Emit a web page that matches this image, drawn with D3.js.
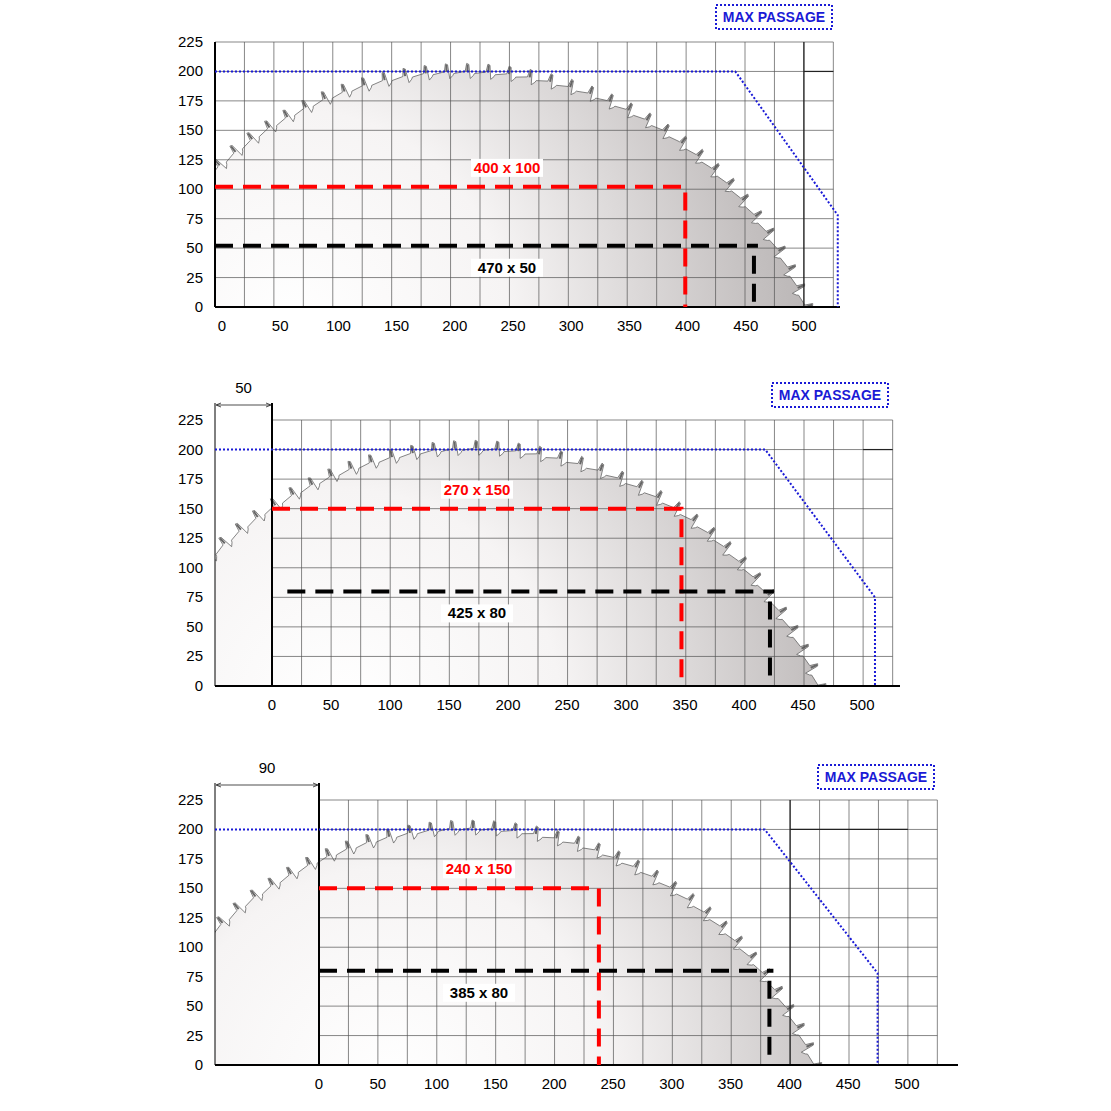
<!DOCTYPE html>
<html><head><meta charset="utf-8">
<script src="https://cdn.jsdelivr.net/npm/d3@7"></script>
<style>body{margin:0;background:#fff}svg{display:block;font-family:"Liberation Sans",Arial,sans-serif}</style>
</head><body><div id="app"></div>
<script>
const yTicks = [0, 25, 50, 75, 100, 125, 150, 175, 200, 225];
const xTicks = [0, 50, 100, 150, 200, 250, 300, 350, 400, 450, 500];
const offsetLabel = [null, "50", "90"];
const redX = [398, 347, 238];
const redY = [102, 150, 150];
const redLabel = ["400 x 100", "270 x 150", "240 x 150"];
const blackStart = [-6, 13, 0];
const blackX = [457, 422, 383];
const blackY = [52, 80, 80];
const blackLabel = ["470 x 50", "425 x 80", "385 x 80"];
const maxHeight = [200, 200, 200];
const blueKnee = [441, 418, 379];
const blueEnd = [529, 511, 475];
const blueEndY = [78, 75, 78];
const bladeCx = [208, 170, 128];
const bladeCy = [-110, -112, -112];
const bladeR = [312, 312, 312];

const layout = [
  {x0: 222, k: 1.164, yb: 307, yt: 42, gl: 215, left: 215, axisR: 840, box: [716, 5], dark: 20},
  {x0: 272, k: 1.18, yb: 686, yt: 420, gl: 272, left: 215, axisR: 900, box: [772, 383], dark: null},
  {x0: 319, k: 1.176, yb: 1065, yt: 800, gl: 319, left: 215, axisR: 958, box: [818, 765], dark: 16}
];

const svg = d3.select("#app").append("svg").attr("width", 1111).attr("height", 1111);
const defs = svg.append("defs");

layout.forEach((L, p) => {
  const x = d3.scaleLinear().domain([0, 500]).range([L.x0, L.x0 + 500 * L.k]);
  const y = d3.scaleLinear().domain([0, 225]).range([L.yb, L.yt]);
  const cell = (L.yb - L.yt) / 9;
  const gr = L.gl + 21 * cell;
  const g = svg.append("g");

  const grad = defs.append("radialGradient").attr("id", "blade" + p).attr("gradientUnits", "userSpaceOnUse")
    .attr("cx", x(60)).attr("cy", L.yb + 20).attr("r", 620);
  grad.append("stop").attr("offset", "0%").attr("stop-color", "#ffffff");
  grad.append("stop").attr("offset", "35%").attr("stop-color", "#f6f4f4");
  grad.append("stop").attr("offset", "75%").attr("stop-color", "#c4c0c0");
  grad.append("stop").attr("offset", "100%").attr("stop-color", "#a8a4a4");

  defs.append("clipPath").attr("id", "clip" + p).append("rect")
    .attr("x", L.left).attr("y", L.yt - 40).attr("width", 800).attr("height", L.yb - L.yt + 40);

  // saw blade
  const cx = x(bladeCx[p]), cy = y(bladeCy[p]), r = bladeR[p] * L.k;
  const n = 110, pts = [];
  const P = (rr, aa) => [cx + rr * Math.cos(aa), cy + rr * Math.sin(aa)];
  for (let i = 0; i < n; i++) {
    const a = (i / n) * 2 * Math.PI, s = 2 * Math.PI / n;
    pts.push(P(r, a), P(r + 2, a + s * 0.55), P(r + 10, a + s * 0.62), P(r + 9, a + s * 0.72), P(r - 5, a + s * 0.8), P(r - 2, a + s * 0.95));
  }
  const bg = g.append("g").attr("clip-path", `url(#clip${p})`);
  bg.append("polygon").attr("points", pts.map(d => d.join(",")).join(" "))
    .attr("fill", `url(#blade${p})`).attr("stroke", "#666").attr("stroke-width", 0.8);
  for (let i = 0; i < n; i++) {
    const a = (i / n) * 2 * Math.PI + (2 * Math.PI / n) * 0.66;
    const p1 = P(r + 2, a), p2 = P(r + 9, a);
    bg.append("line").attr("x1", p1[0]).attr("y1", p1[1]).attr("x2", p2[0]).attr("y2", p2[1])
      .attr("stroke", "#666").attr("stroke-width", 2);
  }

  // grid
  yTicks.forEach(t => g.append("line").attr("x1", L.gl).attr("x2", gr).attr("y1", y(t)).attr("y2", y(t))
    .attr("stroke", "#555").attr("stroke-width", 0.7));
  d3.range(22).forEach(i => g.append("line").attr("x1", L.gl + i * cell).attr("x2", L.gl + i * cell)
    .attr("y1", L.yt).attr("y2", L.yb).attr("stroke", "#555").attr("stroke-width", 0.7));
  if (L.dark !== null) {
    g.append("line").attr("x1", L.gl + L.dark * cell).attr("x2", L.gl + L.dark * cell)
      .attr("y1", L.yt).attr("y2", L.yb).attr("stroke", "#222").attr("stroke-width", 1.2);
    g.append("line").attr("x1", L.gl + L.dark * cell).attr("x2", gr - (p === 2 ? cell : 0))
      .attr("y1", y(200)).attr("y2", y(200)).attr("stroke", "#222").attr("stroke-width", 1.2);
  } else {
    g.append("line").attr("x1", gr - cell).attr("x2", gr).attr("y1", y(200)).attr("y2", y(200))
      .attr("stroke", "#222").attr("stroke-width", 1.2);
  }

  // axes
  g.append("line").attr("x1", L.left).attr("x2", L.axisR).attr("y1", L.yb).attr("y2", L.yb)
    .attr("stroke", "#000").attr("stroke-width", 2);
  if (p === 0) {
    g.append("line").attr("x1", L.left).attr("x2", L.left).attr("y1", L.yt).attr("y2", L.yb)
      .attr("stroke", "#000").attr("stroke-width", 2);
  } else {
    g.append("line").attr("x1", L.left).attr("x2", L.left).attr("y1", L.yt - 17).attr("y2", L.yb)
      .attr("stroke", "#000").attr("stroke-width", 1);
    g.append("line").attr("x1", L.gl).attr("x2", L.gl).attr("y1", L.yt - 17).attr("y2", L.yb)
      .attr("stroke", "#000").attr("stroke-width", 2);
    const ay = L.yt - 15;
    g.append("line").attr("x1", L.left + 2).attr("x2", L.gl - 2).attr("y1", ay).attr("y2", ay)
      .attr("stroke", "#000").attr("stroke-width", 0.7);
    g.append("path").attr("d", `M${L.left + 6},${ay - 2}L${L.left + 1},${ay}L${L.left + 6},${ay + 2}M${L.gl - 6},${ay - 2}L${L.gl - 1},${ay}L${L.gl - 6},${ay + 2}`)
      .attr("fill", "none").attr("stroke", "#000").attr("stroke-width", 0.7);
    g.append("text").attr("x", (L.left + L.gl) / 2).attr("y", L.yt - 27).attr("text-anchor", "middle")
      .attr("font-size", 15).text(offsetLabel[p]);
  }
  yTicks.forEach(t => g.append("text").attr("x", 203).attr("y", y(t) + 5).attr("text-anchor", "end")
    .attr("font-size", 15).text(t));
  xTicks.forEach(t => g.append("text").attr("x", x(t)).attr("y", L.yb + 24).attr("text-anchor", "middle")
    .attr("font-size", 15).text(t));

  // max passage
  g.append("polyline").attr("points", [[L.left, y(maxHeight[p])], [x(blueKnee[p]), y(maxHeight[p])],
    [x(blueEnd[p]), y(blueEndY[p])], [x(blueEnd[p]), L.yb]].map(d => d.join(",")).join(" "))
    .attr("fill", "none").attr("stroke", "#1a1ad6").attr("stroke-width", 2).attr("stroke-dasharray", "2 2");
  g.append("rect").attr("x", L.box[0]).attr("y", L.box[1]).attr("width", 116).attr("height", 24)
    .attr("fill", "#fff").attr("stroke", "#1a1ad6").attr("stroke-width", 2).attr("stroke-dasharray", "2 2");
  g.append("text").attr("x", L.box[0] + 58).attr("y", L.box[1] + 17).attr("text-anchor", "middle")
    .attr("font-size", 14).attr("font-weight", "bold").attr("fill", "#1a1ad6").text("MAX PASSAGE");

  // cuts
  const dash = "18 10";
  g.append("polyline").attr("points", [[p === 0 ? L.left : x(0), y(redY[p])], [x(redX[p]), y(redY[p])], [x(redX[p]), L.yb]]
    .map(d => d.join(",")).join(" ")).attr("fill", "none").attr("stroke", "#f00")
    .attr("stroke-width", 4).attr("stroke-dasharray", dash);
  g.append("line").attr("x1", p === 0 ? L.left : x(blackStart[p])).attr("x2", x(blackX[p]) + 4)
    .attr("y1", y(blackY[p])).attr("y2", y(blackY[p])).attr("stroke", "#000").attr("stroke-width", 4).attr("stroke-dasharray", dash);
  g.append("line").attr("x1", x(blackX[p])).attr("x2", x(blackX[p])).attr("y1", y(blackY[p]) + 10).attr("y2", L.yb)
    .attr("stroke", "#000").attr("stroke-width", 4).attr("stroke-dasharray", dash);

  const lx = [507, 477, 479][p];
  [[redLabel[p], y(redY[p]) - 14, "#f00"], [blackLabel[p], y(blackY[p]) + 27, "#000"]].forEach(([txt, ty, c]) => {
    g.append("rect").attr("x", lx - 36).attr("y", ty - 14).attr("width", 72).attr("height", 18).attr("fill", "#fff");
    g.append("text").attr("x", lx).attr("y", ty).attr("text-anchor", "middle").attr("font-size", 15)
      .attr("font-weight", "bold").attr("fill", c).text(txt);
  });
});
</script></body></html>
